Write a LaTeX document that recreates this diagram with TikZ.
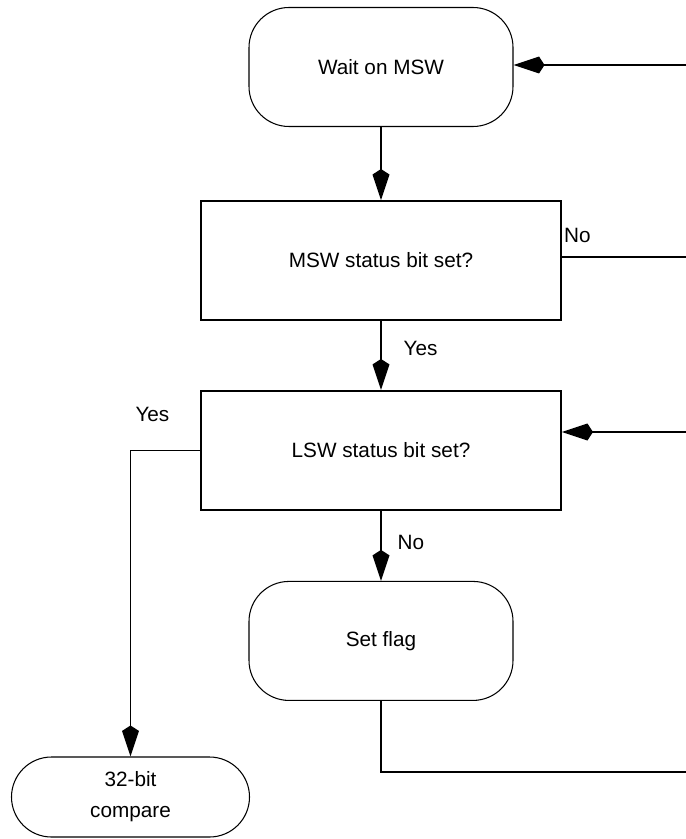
\documentclass[tikz,border=0pt]{standalone}
\usepackage{fontspec}
\setmainfont{Liberation Sans}
\usetikzlibrary{positioning, arrows.meta}

\begin{document}
\begin{tikzpicture}
    % settings for this picture
    \tikzset{
      >={Kite[length=0.62cm, width=0.34cm, inset=0.11cm]},
      every node/.style={font=\fontsize{11.8}{17.7}\selectfont},
      term/.style={draw, line width=0.6pt, rounded corners=0.8cm,
        minimum width=5.28cm, minimum height=2.38cm, align=center},
      proc/.style={draw, line width=1.1pt, minimum width=7.2cm, minimum height=2.38cm},
      flow/.style={line width=0.8pt},
      lbl/.style={inner sep=0pt},
    }
    \useasboundingbox (0,0) rectangle (13.72,-16.78);

    % boxes
    \node[term] (wait) at (7.62,-1.34) {Wait on MSW};
    \node[proc, below=1.46cm of wait] (msw) {MSW status bit set?};
    \node[proc, below=1.38cm of msw] (lsw) {LSW status bit set?};
    \node[term, below=1.4cm of lsw] (flag) {Set flag};
    \node[term, minimum width=4.76cm, minimum height=1.6cm, rounded corners=0.8cm]
      (cmp) at (2.61,-15.94) {32-bit\\compare};

    % loose ends at the right border
    \coordinate (r1) at (13.72,-1.3);
    \coordinate (r2) at (13.72,-5.14);
    \coordinate (r3) at (13.72,-8.64);
    \coordinate (r4) at (13.72,-15.44);

    % connectors
    \draw[flow, ->] (r1) -- (r1 -| wait.east);
    \draw[flow, ->] (wait) -- (msw);
    \draw[flow] (msw.east |- r2)
      node[lbl, anchor=south west, xshift=0.03cm, yshift=0.27cm] {No} -- (r2);
    \draw[flow, ->] (msw) -- node[lbl, right, xshift=0.44cm, yshift=0.13cm] {Yes} (lsw);
    \draw[flow, ->] (r3) -- (r3 -| lsw.east);
    \draw[flow, ->] (lsw.west)
      node[lbl, anchor=south east, xshift=-0.6cm, yshift=0.57cm] {Yes} -| (cmp.north);
    \draw[flow, ->] (lsw) -- node[lbl, right, xshift=0.32cm, yshift=0.06cm] {No} (flag);
    \draw[flow] (flag.south) |- (r4);

\end{tikzpicture}
\end{document}
